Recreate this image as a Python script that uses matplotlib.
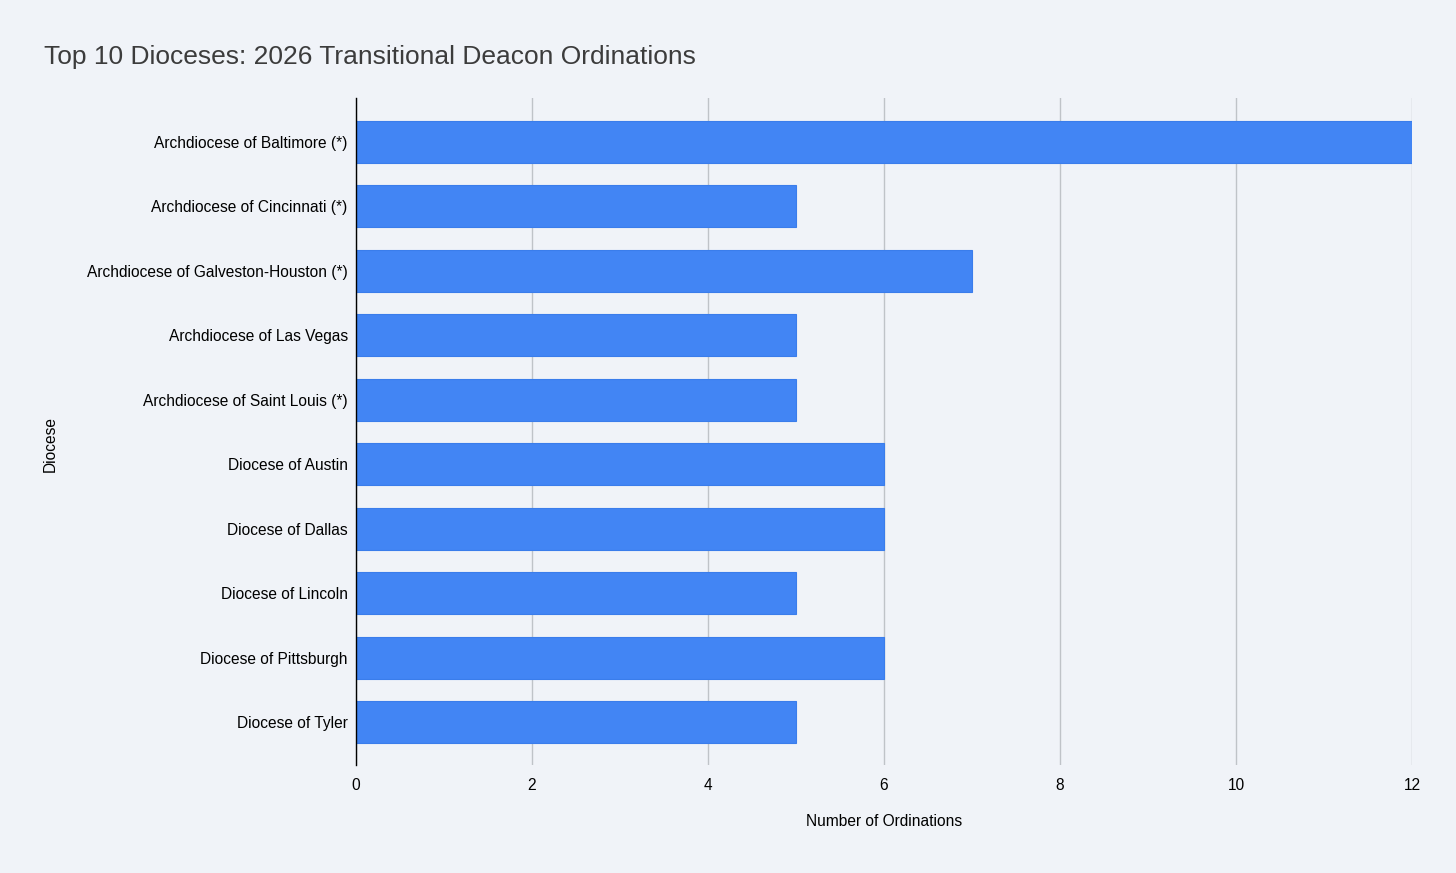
import matplotlib
matplotlib.use('Agg')
import matplotlib.pyplot as plt

# ── Data ─────────────────────────────────────────────────────
dioceses = [
    'Archdiocese of Baltimore (*)',
    'Archdiocese of Cincinnati (*)',
    'Archdiocese of Galveston-Houston (*)',
    'Archdiocese of Las Vegas',
    'Archdiocese of Saint Louis (*)',
    'Diocese of Austin',
    'Diocese of Dallas',
    'Diocese of Lincoln',
    'Diocese of Pittsburgh',
    'Diocese of Tyler',
]
ordinations = [12, 5, 7, 5, 5, 6, 6, 5, 6, 5]
x_ticks = [0, 2, 4, 6, 8, 10, 12]

BG = '#F0F3F8'
BAR = '#4285F4'

plt.rcParams['font.family'] = ['Liberation Sans', 'DejaVu Sans']

fig = plt.figure(figsize=(14.56, 8.73), dpi=100, facecolor=BG)
ax = fig.add_axes([356 / 1456, 1 - 765 / 873, (1412 - 356) / 1456, (765 - 98) / 873])
ax.set_facecolor(BG)

ypos = list(range(len(dioceses)))
ax.barh(ypos, ordinations, height=0.65, color=BAR, edgecolor='#3A7DEB',
        linewidth=0.8, zorder=3)

ax.set_ylim(9.66, -0.68)
ax.set_xlim(0, 12)
ax.set_yticks(ypos)
ax.set_yticklabels(dioceses, fontsize=11.2, color='black')
ax.set_xticks(x_ticks)
ax.set_xticklabels([str(t) for t in x_ticks], fontsize=11.2, color='black')
ax.tick_params(axis='both', length=0)
ax.tick_params(axis='y', pad=6)
ax.tick_params(axis='x', pad=9)

ax.grid(axis='x', color='#BFC3C8', linewidth=1, zorder=0)
ax.grid(axis='y', visible=False)
for s in ['top', 'right', 'bottom']:
    ax.spines[s].set_visible(False)
ax.spines['left'].set_color('black')
ax.spines['left'].set_linewidth(1)
ax.spines['left'].set_zorder(4)

fig.text(44 / 1456, 1 - 57 / 873, 'Top 10 Dioceses: 2026 Transitional Deacon Ordinations',
         fontsize=19, color='#3C3C3C', ha='left', va='center')
fig.text(884 / 1456, 1 - 821 / 873, 'Number of Ordinations',
         fontsize=11.2, color='black', ha='center', va='center')
fig.text(50 / 1456, 1 - 444 / 873, 'Diocese', rotation=90,
         fontsize=11.2, color='black', ha='center', va='center')

plt.savefig('out.png', dpi=100, facecolor=BG)
plt.close()
